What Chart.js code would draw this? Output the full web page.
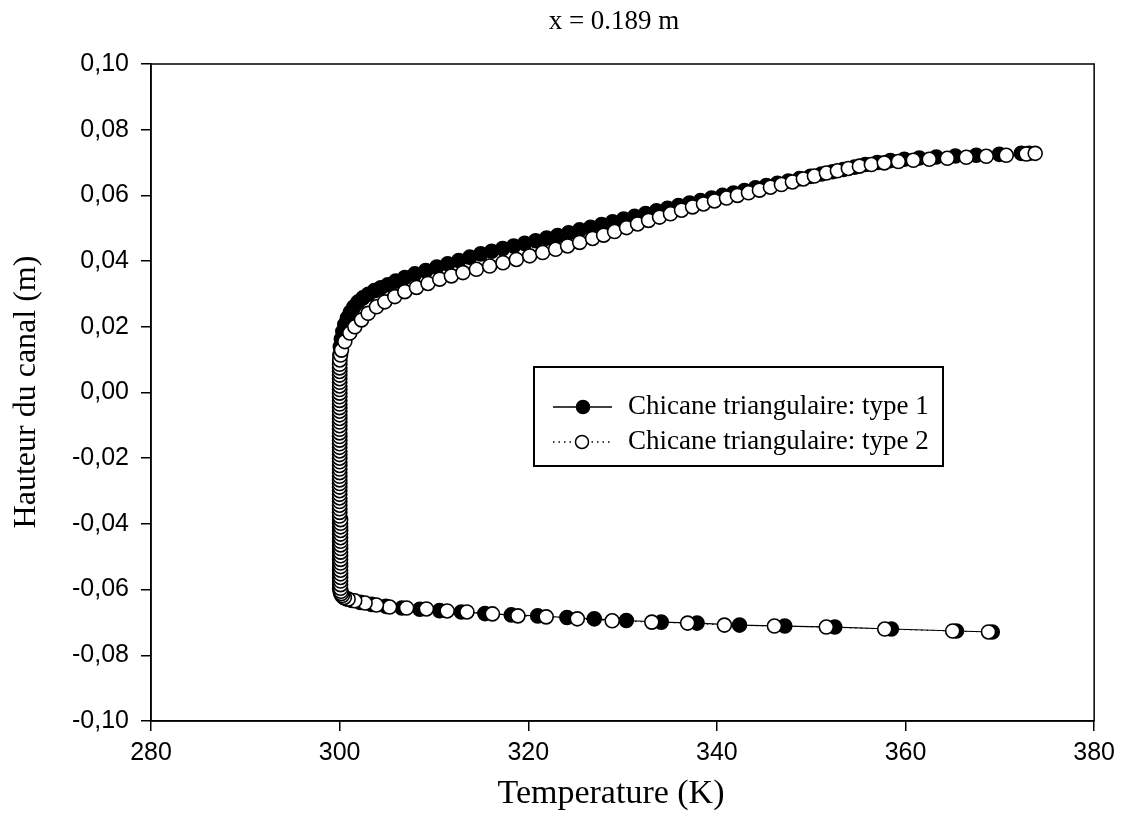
<!DOCTYPE html>
<html>
<head>
<meta charset="utf-8">
<title>x = 0.189 m</title>
<script src="https://cdn.jsdelivr.net/npm/chart.js@4.4.1/dist/chart.umd.min.js"></script>
<style>
  html, body { margin: 0; padding: 0; background: #fff; }
  #wrap { width: 1122px; height: 832px; }
</style>
</head>
<body>
<div id="wrap"><canvas id="chart" width="1122" height="832"></canvas></div>
<script>
// textes
const chartTitle = 'x = 0.189 m';
const xTitle = 'Temperature (K)';
const yTitle = 'Hauteur du canal (m)';
const seriesNames = ['Chicane triangulaire: type 1', 'Chicane triangulaire: type 2'];

// graduations
const xTicks = [280, 300, 320, 340, 360, 380];
const yTicks = [-0.10, -0.08, -0.06, -0.04, -0.02, 0.00, 0.02, 0.04, 0.06, 0.08, 0.10];

// type 1 : [T (K), hauteur (m)], de la paroi basse vers la paroi haute
const type1Points = [
  [369.2,-0.0729],[365.4,-0.0726],[358.5,-0.0720],[352.5,-0.0714],[347.2,-0.0711],[342.4,-0.0708],
  [337.9,-0.0702],[334.1,-0.0699],[330.4,-0.0694],[327.0,-0.0689],[324.1,-0.0685],[321.0,-0.0680],
  [318.2,-0.0677],[315.4,-0.0673],[312.9,-0.0668],[310.6,-0.0664],[308.5,-0.0660],[306.6,-0.0656],
  [304.9,-0.0651],[303.4,-0.0645],[302.2,-0.0639],[301.3,-0.0633],
  [300.7,-0.0628],[300.4,-0.0623],[300.2,-0.0617],[300.1,-0.0611],[300.05,-0.0604],
  [300.0,-0.0597],[300.0,-0.0586],[300.0,-0.0575],[300.0,-0.0564],[300.0,-0.0553],[300.0,-0.0542],
  [300.0,-0.0531],[300.0,-0.0520],[300.0,-0.0509],[300.0,-0.0498],[300.0,-0.0487],[300.0,-0.0476],
  [300.0,-0.0465],[300.0,-0.0454],[300.0,-0.0443],[300.0,-0.0432],[300.0,-0.0421],[300.0,-0.0410],
  [300.0,-0.0399],[300.0,-0.0388],[300.0,-0.0377],[300.0,-0.0366],[300.0,-0.0355],[300.0,-0.0344],
  [300.0,-0.0333],[300.0,-0.0322],[300.0,-0.0311],[300.0,-0.0300],[300.0,-0.0289],[300.0,-0.0278],
  [300.0,-0.0267],[300.0,-0.0256],[300.0,-0.0245],[300.0,-0.0234],[300.0,-0.0223],[300.0,-0.0212],
  [300.0,-0.0201],[300.0,-0.0190],[300.0,-0.0179],[300.0,-0.0168],[300.0,-0.0157],[300.0,-0.0146],
  [300.0,-0.0135],[300.0,-0.0124],[300.0,-0.0113],[300.0,-0.0102],[300.0,-0.0091],[300.0,-0.0080],
  [300.0,-0.0069],[300.0,-0.0058],[300.0,-0.0047],[300.0,-0.0036],[300.0,-0.0025],[300.0,-0.0014],
  [300.0,-0.0003],[300.0,0.0008],[300.0,0.0019],[300.0,0.0030],[300.0,0.0041],[300.0,0.0052],
  [300.0,0.0063],[300.0,0.0074],[300.0,0.0085],[300.0,0.0096],
  [300.02,0.0114],[300.07,0.0139],[300.18,0.0163],[300.34,0.0186],[300.55,0.0207],[300.82,0.0227],
  [301.13,0.0244],[301.50,0.0260],[301.93,0.0275],[302.46,0.0288],[303.04,0.0299],[303.68,0.0310],
  [304.36,0.0319],[305.11,0.0328],[305.95,0.0339],[306.91,0.0350],[307.97,0.0361],[309.13,0.0371],
  [310.30,0.0382],[311.46,0.0392],[312.63,0.0402],[313.79,0.0412],[314.96,0.0422],[316.12,0.0430],
  [317.29,0.0438],[318.45,0.0446],[319.62,0.0454],[320.78,0.0462],[321.95,0.0470],[323.11,0.0478],
  [324.28,0.0486],[325.44,0.0495],[326.61,0.0503],[327.78,0.0511],[328.94,0.0520],[330.11,0.0528],
  [331.27,0.0536],[332.44,0.0545],[333.60,0.0553],[334.77,0.0561],[335.93,0.0569],[337.10,0.0577],
  [338.26,0.0584],[339.43,0.0592],[340.59,0.0600],[341.76,0.0607],[342.92,0.0615],[344.09,0.0623],
  [345.25,0.0630],[346.42,0.0637],[347.58,0.0644],[348.75,0.0651],[349.92,0.0658],[351.08,0.0665],
  [352.25,0.0672],[353.41,0.0679],[354.58,0.0686],[355.74,0.0694],[357.01,0.0700],[358.39,0.0706],
  [359.87,0.0710],[361.46,0.0714],[363.26,0.0717],[365.28,0.0720],[367.50,0.0722],[369.94,0.0725],
  [372.27,0.0728],[373.11,0.0728]
];

// type 2 : [T (K), hauteur (m)]
const type2Points = [
  [368.8,-0.0729],[365.0,-0.0726],[357.8,-0.0720],[351.6,-0.0714],[346.1,-0.0711],[340.8,-0.0708],
  [336.9,-0.0702],[333.1,-0.0699],[328.9,-0.0695],[325.2,-0.0689],[321.9,-0.0683],[318.9,-0.0680],
  [316.2,-0.0674],[313.5,-0.0668],[311.4,-0.0665],[309.2,-0.0659],[307.1,-0.0656],[305.3,-0.0653],
  [303.9,-0.0647],[302.7,-0.0641],[301.6,-0.0634],
  [300.9,-0.0629],[300.5,-0.0624],[300.3,-0.0618],[300.2,-0.0612],[300.15,-0.0605],
  [300.1,-0.0596],[300.1,-0.0585],[300.1,-0.0574],[300.1,-0.0563],[300.1,-0.0552],[300.1,-0.0541],
  [300.1,-0.0530],[300.1,-0.0519],[300.1,-0.0508],[300.1,-0.0497],[300.1,-0.0486],[300.1,-0.0475],
  [300.1,-0.0464],[300.1,-0.0453],[300.1,-0.0442],[300.1,-0.0431],[300.1,-0.0420],[300.1,-0.0409],
  [300.1,-0.0398],[300.1,-0.0387],[300.0,-0.0376],[300.0,-0.0365],[300.0,-0.0354],[300.0,-0.0343],
  [300.0,-0.0332],[300.0,-0.0321],[300.0,-0.0310],[300.0,-0.0299],[300.0,-0.0288],[300.0,-0.0277],
  [300.0,-0.0266],[300.0,-0.0255],[300.0,-0.0244],[300.0,-0.0233],[300.0,-0.0222],[300.0,-0.0211],
  [300.0,-0.0200],[300.0,-0.0189],[300.0,-0.0178],[300.0,-0.0167],[300.0,-0.0156],[300.0,-0.0145],
  [300.0,-0.0134],[300.0,-0.0123],[300.0,-0.0112],[300.0,-0.0101],[300.0,-0.0090],[300.0,-0.0079],
  [300.0,-0.0068],[300.0,-0.0057],[300.0,-0.0046],[300.0,-0.0035],[300.0,-0.0024],[300.0,-0.0013],
  [300.0,-0.0002],[300.0,0.0009],[300.0,0.0020],[300.0,0.0031],[300.0,0.0042],[300.0,0.0053],
  [300.0,0.0064],[300.0,0.0075],[300.0,0.0086],[300.02,0.0099],
  [300.1,0.0114],[300.2,0.0129],[300.55,0.0155],[301.08,0.0181],[301.61,0.0200],[302.32,0.0221],
  [303.02,0.0241],[303.91,0.0261],[304.79,0.0276],[305.85,0.0292],[306.91,0.0307],[308.15,0.0320],
  [309.37,0.0332],[310.61,0.0345],[311.85,0.0355],[313.08,0.0365],[314.50,0.0375],[315.91,0.0385],
  [317.32,0.0395],[318.74,0.0405],[320.15,0.0416],[321.53,0.0426],[322.90,0.0436],[324.17,0.0446],
  [325.45,0.0457],[326.82,0.0469],[327.99,0.0479],[329.15,0.0490],[330.42,0.0502],[331.59,0.0513],
  [332.75,0.0524],[333.92,0.0534],[335.08,0.0544],[336.25,0.0555],[337.42,0.0565],[338.58,0.0574],
  [339.75,0.0583],[341.02,0.0592],[342.18,0.0600],[343.35,0.0608],[344.51,0.0616],[345.68,0.0625],
  [346.84,0.0633],[348.01,0.0641],[349.17,0.0650],[350.34,0.0659],[351.61,0.0668],[352.78,0.0675],
  [353.94,0.0682],[355.11,0.0689],[356.38,0.0694],[357.75,0.0699],[359.24,0.0703],[360.83,0.0707],
  [362.52,0.0710],[364.43,0.0713],[366.44,0.0716],[368.56,0.0719],[370.68,0.0722],[372.80,0.0726],
  [373.75,0.0728]
];

const toXY = pts => pts.map(([x, y]) => ({ x, y }));

// titres, cadre et legende dessines a la main
const decor = {
  id: 'decor',
  afterDatasetsDraw(chart) {
    const { ctx, chartArea: a } = chart;
    ctx.save();
    ctx.strokeStyle = '#000';
    ctx.lineWidth = 1.5;
    ctx.strokeRect(a.left, a.top, a.right - a.left, a.bottom - a.top);

    // legende
    ctx.fillStyle = '#fff';
    ctx.fillRect(534, 367, 409, 99);
    ctx.lineWidth = 2;
    ctx.strokeRect(534, 367, 409, 99);

    const rows = [407, 442];
    ctx.lineWidth = 1.5;
    ctx.beginPath(); ctx.moveTo(553, rows[0]); ctx.lineTo(612, rows[0]); ctx.stroke();
    ctx.setLineDash([1.5, 4]);
    ctx.beginPath(); ctx.moveTo(553, rows[1]); ctx.lineTo(612, rows[1]); ctx.stroke();
    ctx.setLineDash([]);

    ctx.beginPath(); ctx.arc(583, rows[0], 6.5, 0, Math.PI * 2);
    ctx.fillStyle = '#000'; ctx.fill(); ctx.stroke();
    ctx.beginPath(); ctx.arc(582, rows[1], 6.5, 0, Math.PI * 2);
    ctx.fillStyle = '#fff'; ctx.fill(); ctx.stroke();

    ctx.fillStyle = '#000';
    ctx.font = '27px "Liberation Serif"';
    ctx.textAlign = 'left';
    ctx.textBaseline = 'middle';
    ctx.fillText(seriesNames[0], 628, rows[0]);
    ctx.fillText(seriesNames[1], 628, rows[1]);

    // titres
    ctx.textAlign = 'center';
    ctx.fillText(chartTitle, 614, 22);
    ctx.font = '34px "Liberation Serif"';
    ctx.fillText(xTitle, 611, 794);
    ctx.font = '32px "Liberation Serif"';
    ctx.translate(27, 392);
    ctx.rotate(-Math.PI / 2);
    ctx.fillText(yTitle, 0, 0);
    ctx.restore();
  }
};

new Chart(document.getElementById('chart'), {
  type: 'scatter',
  data: {
    datasets: [
      {
        label: seriesNames[0],
        data: toXY(type1Points),
        showLine: true,
        borderColor: '#000',
        borderWidth: 1.2,
        pointRadius: 7,
        pointBorderWidth: 1.6,
        pointBackgroundColor: '#000',
        pointBorderColor: '#000',
        order: 2
      },
      {
        label: seriesNames[1],
        data: toXY(type2Points),
        showLine: true,
        borderColor: '#000',
        borderWidth: 1,
        borderDash: [1.5, 4],
        pointRadius: 7,
        pointBorderWidth: 1.6,
        pointBackgroundColor: '#fff',
        pointBorderColor: '#000',
        order: 1
      }
    ]
  },
  options: {
    responsive: false,
    devicePixelRatio: 1,
    animation: false,
    layout: { padding: { top: 64, right: 27, left: 0, bottom: 0 } },
    plugins: {
      legend: { display: false },
      title: { display: false },
      tooltip: { enabled: false }
    },
    scales: {
      x: {
        type: 'linear',
        min: 280,
        max: 380,
        afterBuildTicks: s => { s.ticks = xTicks.map(v => ({ value: v })); },
        afterFit: s => { s.height = 111; },
        border: { display: true, color: '#000', width: 1.5 },
        grid: { drawOnChartArea: false, drawTicks: true, tickLength: 10, color: '#000', lineWidth: 1.5 },
        ticks: {
          color: '#000',
          padding: 7,
          font: { family: '"Liberation Sans"', size: 25 },
          callback: v => String(v)
        }
      },
      y: {
        type: 'linear',
        min: -0.1,
        max: 0.1,
        afterBuildTicks: s => { s.ticks = yTicks.map(v => ({ value: v })); },
        afterFit: s => { s.width = 151; },
        border: { display: true, color: '#000', width: 1.5 },
        grid: { drawOnChartArea: false, drawTicks: true, tickLength: 10, color: '#000', lineWidth: 1.5 },
        ticks: {
          color: '#000',
          padding: 12,
          font: { family: '"Liberation Sans"', size: 25 },
          callback: v => v.toFixed(2).replace('.', ',')
        }
      }
    }
  },
  plugins: [decor]
});
</script>
</body>
</html>
